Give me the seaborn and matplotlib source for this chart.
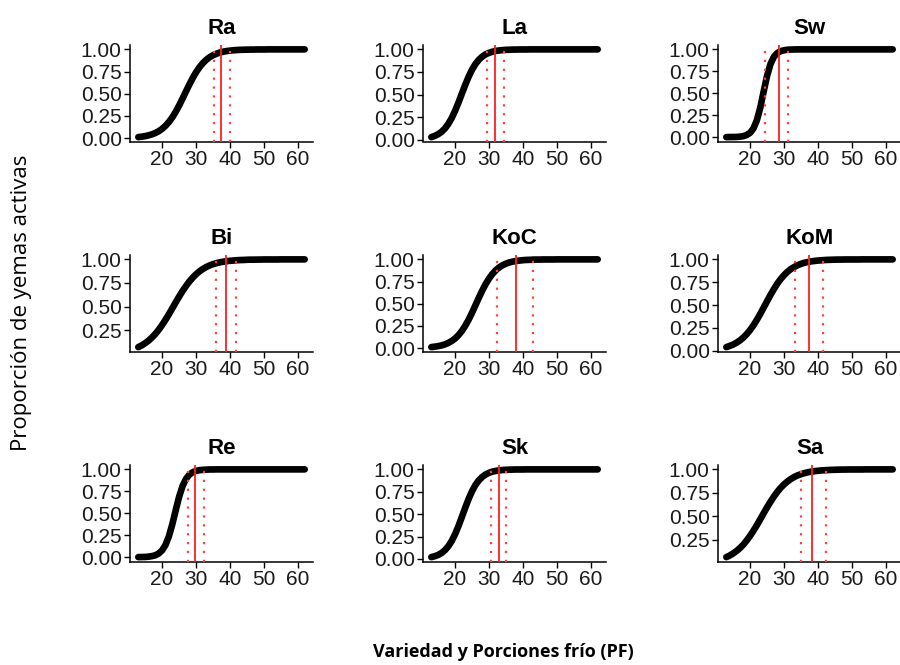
import numpy as np
import pandas as pd
import matplotlib
matplotlib.use("Agg")
import matplotlib.pyplot as plt
from matplotlib.ticker import FixedLocator, FuncFormatter
import seaborn as sns

# ---------------- data ----------------
varieties = ["Ra", "La", "Sw", "Bi", "KoC", "KoM", "Re", "Sk", "Sa"]

pf = list(range(13, 63))  # Porciones frío (x)

ra = [0.012, 0.017, 0.023, 0.032, 0.043, 0.058, 0.078, 0.105, 0.139, 0.182,
      0.234, 0.296, 0.367, 0.444, 0.524, 0.602, 0.676, 0.742, 0.798, 0.845,
      0.882, 0.912, 0.934, 0.951, 0.964, 0.974, 0.981, 0.986, 0.990, 0.993,
      0.995, 0.996, 0.997, 0.998, 0.998, 0.999, 0.999, 0.999, 1.000, 1.000,
      1.000, 1.000, 1.000, 1.000, 1.000, 1.000, 1.000, 1.000, 1.000, 1.000]
la = [0.028, 0.041, 0.060, 0.086, 0.123, 0.174, 0.239, 0.319, 0.411, 0.510,
      0.608, 0.698, 0.776, 0.838, 0.885, 0.920, 0.945, 0.962, 0.974, 0.983,
      0.988, 0.992, 0.995, 0.996, 0.998, 0.998, 0.999, 0.999, 0.999, 1.000,
      1.000, 1.000, 1.000, 1.000, 1.000, 1.000, 1.000, 1.000, 1.000, 1.000,
      1.000, 1.000, 1.000, 1.000, 1.000, 1.000, 1.000, 1.000, 1.000, 1.000]
sw = [0.000, 0.001, 0.001, 0.002, 0.005, 0.011, 0.024, 0.049, 0.100, 0.192,
      0.336, 0.520, 0.698, 0.832, 0.914, 0.958, 0.980, 0.990, 0.996, 0.998,
      0.999, 1.000, 1.000, 1.000, 1.000, 1.000, 1.000, 1.000, 1.000, 1.000,
      1.000, 1.000, 1.000, 1.000, 1.000, 1.000, 1.000, 1.000, 1.000, 1.000,
      1.000, 1.000, 1.000, 1.000, 1.000, 1.000, 1.000, 1.000, 1.000, 1.000]
bi = [0.071, 0.089, 0.112, 0.139, 0.172, 0.210, 0.254, 0.305, 0.360, 0.419,
      0.481, 0.544, 0.605, 0.663, 0.716, 0.764, 0.806, 0.842, 0.873, 0.898,
      0.919, 0.936, 0.949, 0.960, 0.969, 0.975, 0.981, 0.985, 0.988, 0.991,
      0.993, 0.994, 0.996, 0.997, 0.997, 0.998, 0.998, 0.999, 0.999, 0.999,
      0.999, 0.999, 1.000, 1.000, 1.000, 1.000, 1.000, 1.000, 1.000, 1.000]
koc = [0.011, 0.016, 0.022, 0.030, 0.042, 0.058, 0.080, 0.108, 0.146, 0.193,
       0.252, 0.321, 0.399, 0.483, 0.568, 0.648, 0.722, 0.784, 0.836, 0.878,
       0.910, 0.934, 0.952, 0.966, 0.975, 0.982, 0.987, 0.991, 0.994, 0.995,
       0.997, 0.998, 0.998, 0.999, 0.999, 0.999, 0.999, 1.000, 1.000, 1.000,
       1.000, 1.000, 1.000, 1.000, 1.000, 1.000, 1.000, 1.000, 1.000, 1.000]
kom = [0.039, 0.052, 0.067, 0.087, 0.112, 0.143, 0.181, 0.226, 0.278, 0.338,
       0.403, 0.472, 0.542, 0.610, 0.674, 0.733, 0.784, 0.827, 0.864, 0.894,
       0.917, 0.936, 0.951, 0.963, 0.971, 0.978, 0.983, 0.987, 0.990, 0.993,
       0.995, 0.996, 0.997, 0.998, 0.998, 0.999, 0.999, 0.999, 0.999, 0.999,
       1.000, 1.000, 1.000, 1.000, 1.000, 1.000, 1.000, 1.000, 1.000, 1.000]
re_ = [0.001, 0.002, 0.003, 0.006, 0.012, 0.022, 0.042, 0.078, 0.139, 0.237,
       0.373, 0.532, 0.686, 0.807, 0.889, 0.939, 0.967, 0.983, 0.991, 0.995,
       0.997, 0.999, 0.999, 1.000, 1.000, 1.000, 1.000, 1.000, 1.000, 1.000,
       1.000, 1.000, 1.000, 1.000, 1.000, 1.000, 1.000, 1.000, 1.000, 1.000,
       1.000, 1.000, 1.000, 1.000, 1.000, 1.000, 1.000, 1.000, 1.000, 1.000]
sk = [0.020, 0.030, 0.044, 0.066, 0.097, 0.141, 0.200, 0.276, 0.367, 0.469,
      0.573, 0.671, 0.757, 0.826, 0.878, 0.916, 0.943, 0.962, 0.975, 0.983,
      0.989, 0.993, 0.995, 0.997, 0.998, 0.999, 0.999, 0.999, 1.000, 1.000,
      1.000, 1.000, 1.000, 1.000, 1.000, 1.000, 1.000, 1.000, 1.000, 1.000,
      1.000, 1.000, 1.000, 1.000, 1.000, 1.000, 1.000, 1.000, 1.000, 1.000]
sa = [0.064, 0.081, 0.103, 0.129, 0.160, 0.197, 0.241, 0.291, 0.346, 0.405,
      0.468, 0.532, 0.595, 0.654, 0.709, 0.759, 0.803, 0.840, 0.871, 0.897,
      0.919, 0.936, 0.949, 0.960, 0.969, 0.976, 0.981, 0.985, 0.989, 0.991,
      0.993, 0.995, 0.996, 0.997, 0.998, 0.998, 0.999, 0.999, 0.999, 0.999,
      0.999, 1.000, 1.000, 1.000, 1.000, 1.000, 1.000, 1.000, 1.000, 1.000]

curves = [ra, la, sw, bi, koc, kom, re_, sk, sa]

# PF requirement estimate (solid) and its interval (dotted)
pf_est = [37.5, 31.9, 28.6, 38.7, 38.0, 37.4, 29.8, 32.9, 38.3]
pf_low = [35.2, 29.3, 24.5, 36.0, 32.3, 33.3, 27.6, 30.7, 34.9]
pf_high = [39.9, 34.4, 31.1, 41.7, 43.0, 41.5, 32.2, 35.1, 42.3]

x_ticks = [20, 30, 40, 50, 60]
y_ticks = [0.00, 0.25, 0.50, 0.75, 1.00]

# ---------------- style ----------------
sns.set_theme(style="ticks")
plt.rcParams["font.family"] = ["Liberation Sans", "DejaVu Sans"]

W, H = 900, 665
fig = plt.figure(figsize=(W / 100, H / 100), dpi=100)

col_left = [130, 423, 718]
row_top = [45, 255, 465]
ax_w, ax_h = 183, 96.5

for i, name in enumerate(varieties):
    r, c = divmod(i, 3)
    left = col_left[c] / W
    bottom = (H - row_top[r] - ax_h) / H
    ax = fig.add_axes([left, bottom, ax_w / W, ax_h / H])
    df = pd.DataFrame({"PF": pf, "prop": curves[i]})
    sns.lineplot(data=df, x="PF", y="prop", ax=ax, color="black",
                 linewidth=4.8, estimator=None, sort=True,
                 solid_capstyle="round", solid_joinstyle="round")
    ax.margins(x=0.05, y=0.05)
    ax.axvline(pf_est[i], color="#FF2020", linewidth=1.3, zorder=3)
    for v in (pf_low[i], pf_high[i]):
        ax.axvline(v, color="#FF4040", linewidth=1.6,
                   linestyle=(0, (1, 3.0)), zorder=3)
    ax.xaxis.set_major_locator(FixedLocator(x_ticks))
    ax.yaxis.set_major_locator(FixedLocator(y_ticks))
    ax.yaxis.set_major_formatter(FuncFormatter(lambda v, p: f"{v:.2f}"))
    ax.set_xlabel("")
    ax.set_ylabel("")
    ax.set_title(name, fontsize=16, fontweight="bold", pad=8, color="black")
    sns.despine(ax=ax)
    for s in ("left", "bottom"):
        ax.spines[s].set_linewidth(1.1)
        ax.spines[s].set_color("black")
    ax.tick_params(axis="both", length=4, width=1.0, color="black",
                   labelsize=15, labelcolor="#1a1a1a", pad=2)
    ax.set_facecolor("white")

fig.text(22 / W, 1 - 303 / H, "Proporción de yemas activas", rotation=90,
         ha="center", va="center", fontsize=16,
         family=["Open Sans", "DejaVu Sans"], color="black")
fig.text(503 / W, 1 - 652 / H, "Variedad y Porciones frío (PF)",
         ha="center", va="center", fontsize=13, fontweight="bold",
         family=["Open Sans", "DejaVu Sans"], color="black")

fig.savefig("out.png", dpi=100, facecolor="white")
